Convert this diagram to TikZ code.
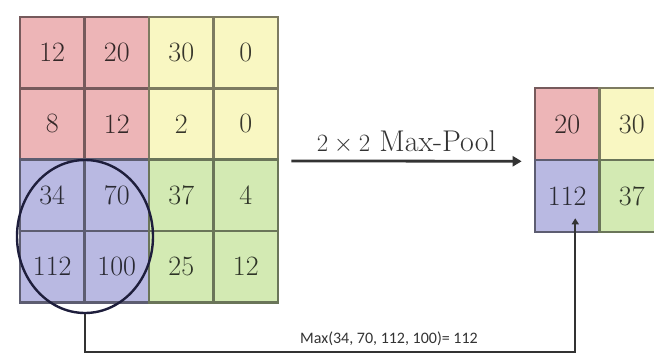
\documentclass[tikz,border=0pt]{standalone}
\usepackage{fontspec}
\newfontfamily\notefont{Carlito}
\usetikzlibrary{shapes.geometric,arrows.meta}

\definecolor{cellred}{HTML}{EDB5B7}
\definecolor{cellyel}{HTML}{F9F7C2}
\definecolor{cellblu}{HTML}{B9B9E2}
\definecolor{cellgrn}{HTML}{D3EAB3}
\definecolor{ringcol}{HTML}{1E1E3C}
\definecolor{wirecol}{HTML}{333333}

\tikzset{
  cell/.style={draw=#1!50!black, fill=#1, line width=2.6pt, inner sep=0pt,
    minimum width=64.5pt, minimum height=71.3pt,
    text=#1!22!black, font=\fontsize{28}{30}\selectfont},
  flow/.style={draw=wirecol, line width=2.8pt, -{Triangle[length=9pt,width=10pt]}},
  link/.style={draw=wirecol, line width=2.4pt, -{Triangle[length=6pt,width=7pt]}}
}

\begin{document}
\begin{tikzpicture}[x=1pt,y=-1pt]
  \clip (0,0) rectangle (654,356);
  % input map
  \foreach \r/\c/\v/\k in {1/1/12/cellred, 1/2/20/cellred, 1/3/30/cellyel, 1/4/0/cellyel,
                           2/1/8/cellred, 2/2/12/cellred, 2/3/2/cellyel, 2/4/0/cellyel,
                           3/1/34/cellblu, 3/2/70/cellblu, 3/3/37/cellgrn, 3/4/4/cellgrn,
                           4/1/112/cellblu, 4/2/100/cellblu, 4/3/25/cellgrn, 4/4/12/cellgrn}
    \node[cell=\k] (a\r\c) at ({20+64.5*(\c-0.5)},{17+71.3*(\r-0.5)}) {\v};
  % pooled map
  \foreach \r/\c/\v/\k in {1/1/20/cellred, 1/2/30/cellyel, 2/1/112/cellblu, 2/2/37/cellgrn}
    \node[cell=\k, minimum height=72pt] (p\r\c) at ({535+64.5*(\c-0.5)},{88+72*(\r-0.5)}) {\v};
  \node[ellipse, draw=ringcol, line width=2.4pt, minimum width=136pt, minimum height=153pt] (sel) at (85,236.5) {};
  \draw[flow] ([xshift=12pt]a24.south east) -- node[above=3pt, font=\fontsize{30}{32}\selectfont, text=wirecol] {$2\times2$ Max-Pool} ([xshift=-12pt]p11.south west);
  \draw[link] (sel.south) -- ++(0,38) -| node[pos=0.31, above=2pt, font=\notefont\fontsize{16}{18}\selectfont, text=wirecol] {Max(34, 70, 112, 100)= 112} ([xshift=8pt,yshift=15pt]p21.south);
\end{tikzpicture}
\end{document}
